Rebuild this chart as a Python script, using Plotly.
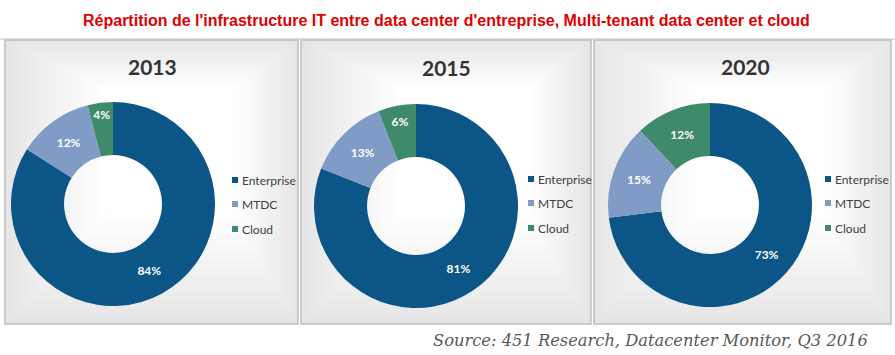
import plotly.graph_objects as go

W, H = 895, 355
years = ["2013", "2015", "2020"]
categories = ["Enterprise", "MTDC", "Cloud"]
values_2013 = [84, 12, 4]
values_2015 = [81, 13, 6]
values_2020 = [73, 15, 12]
all_values = [values_2013, values_2015, values_2020]
colors = ["#0b5587", "#7f9bc6", "#3e8a6b"]

title_text = "Répartition de l'infrastructure IT entre data center d'entreprise, Multi-tenant data center et cloud"
source_text = "Source: 451 Research, Datacenter Monitor, Q3 2016"

# layout geometry (pixels)
panels = [(5, 298), (301, 591), (594, 891)]
panel_top, panel_bot = 40, 324
centers = [(113, 204), (416, 206), (710, 205)]
radius = 102
title_pos = [(152, 67), (446, 68), (745, 67)]
legend_x = [232, 528, 825]
legend_y = [[180, 204, 229], [179, 203, 228], [179, 203, 228]]


def px(x):
    return x / W


def py(y):
    return 1 - y / H


fig = go.Figure()
shapes = []
annotations = []

# top gray line
shapes.append(dict(type="line", xref="paper", yref="paper", x0=0, x1=1,
                   y0=py(39), y1=py(39), line=dict(color="#c4c4c4", width=1)))

# panels with a soft gradient
for (x0, x1) in panels:
    shapes.append(dict(type="rect", xref="paper", yref="paper",
                       x0=px(x0), x1=px(x1), y0=py(panel_bot), y1=py(panel_top),
                       fillcolor="#e6e6e6", line=dict(color="#bdbdbd", width=1.5), layer="below"))
    n = 24
    fx, fy = x0 + 0.62 * (x1 - x0), panel_top + 0.3 * (panel_bot - panel_top)
    for i in range(1, n + 1):
        t = i / n
        g = int(round(0xe6 + (0xff - 0xe6) * min(1.0, t * 1.8)))
        col = "#%02x%02x%02x" % (g, g, g)
        s = t * 0.95
        ax0 = x0 + 1 + (fx - x0) * s
        ax1 = x1 - 1 - (x1 - fx) * s
        ay0 = panel_top + 1 + (fy - panel_top) * s
        ay1 = panel_bot - 1 - (panel_bot - fy) * s
        shapes.append(dict(type="rect", xref="paper", yref="paper",
                           x0=px(ax0), x1=px(ax1), y0=py(ay1), y1=py(ay0),
                           fillcolor=col, line=dict(width=0), layer="below"))

for k, (yr, vals) in enumerate(zip(years, all_values)):
    cx, cy = centers[k]
    fig.add_trace(go.Pie(
        labels=categories, values=vals,
        marker=dict(colors=colors, line=dict(width=0)),
        hole=0.48, sort=False, direction="clockwise", rotation=0,
        texttemplate="%{value}%", textposition="inside",
        insidetextorientation="horizontal",
        textfont=dict(family="Lato", size=12, color="white", weight="bold"),
        domain=dict(x=[px(cx - radius), px(cx + radius)],
                    y=[py(cy + radius), py(cy - radius)]),
        showlegend=False, hoverinfo="label+value",
    ))
    tx, ty = title_pos[k]
    annotations.append(dict(text="<b>%s</b>" % yr, x=px(tx), y=py(ty), xref="paper", yref="paper",
                            showarrow=False, xanchor="center", yanchor="middle",
                            font=dict(family="Lato", size=21, color="#333333")))
    for j, cat in enumerate(categories):
        lx, ly = legend_x[k], legend_y[k][j]
        shapes.append(dict(type="rect", xref="paper", yref="paper",
                           x0=px(lx), x1=px(lx + 6), y0=py(ly + 3), y1=py(ly - 3),
                           fillcolor=colors[j], line=dict(width=0)))
        annotations.append(dict(text=cat, x=px(lx + 8), y=py(ly), xref="paper", yref="paper",
                                showarrow=False, xanchor="left", yanchor="middle",
                                font=dict(family="Lato", size=12, color="#404040")))

annotations.append(dict(text="<b>%s</b>" % title_text, x=px(446), y=py(20), xref="paper", yref="paper",
                        showarrow=False, xanchor="center", yanchor="middle",
                        font=dict(family="Liberation Sans Narrow, Liberation Sans, Arial", size=16,
                                  color="#e00000")))
annotations.append(dict(text="<i>%s</i>" % source_text, x=px(650), y=py(340), xref="paper", yref="paper",
                        showarrow=False, xanchor="center", yanchor="middle",
                        font=dict(family="DejaVu Serif", size=16.3, color="#595959")))

fig.update_layout(width=W, height=H, margin=dict(l=0, r=0, t=0, b=0),
                  paper_bgcolor="white", plot_bgcolor="white",
                  shapes=shapes, annotations=annotations)
fig.write_html("out.html", config={"displayModeBar": False},
               post_script="document.body.style.margin='0';document.body.style.overflow='hidden';")
